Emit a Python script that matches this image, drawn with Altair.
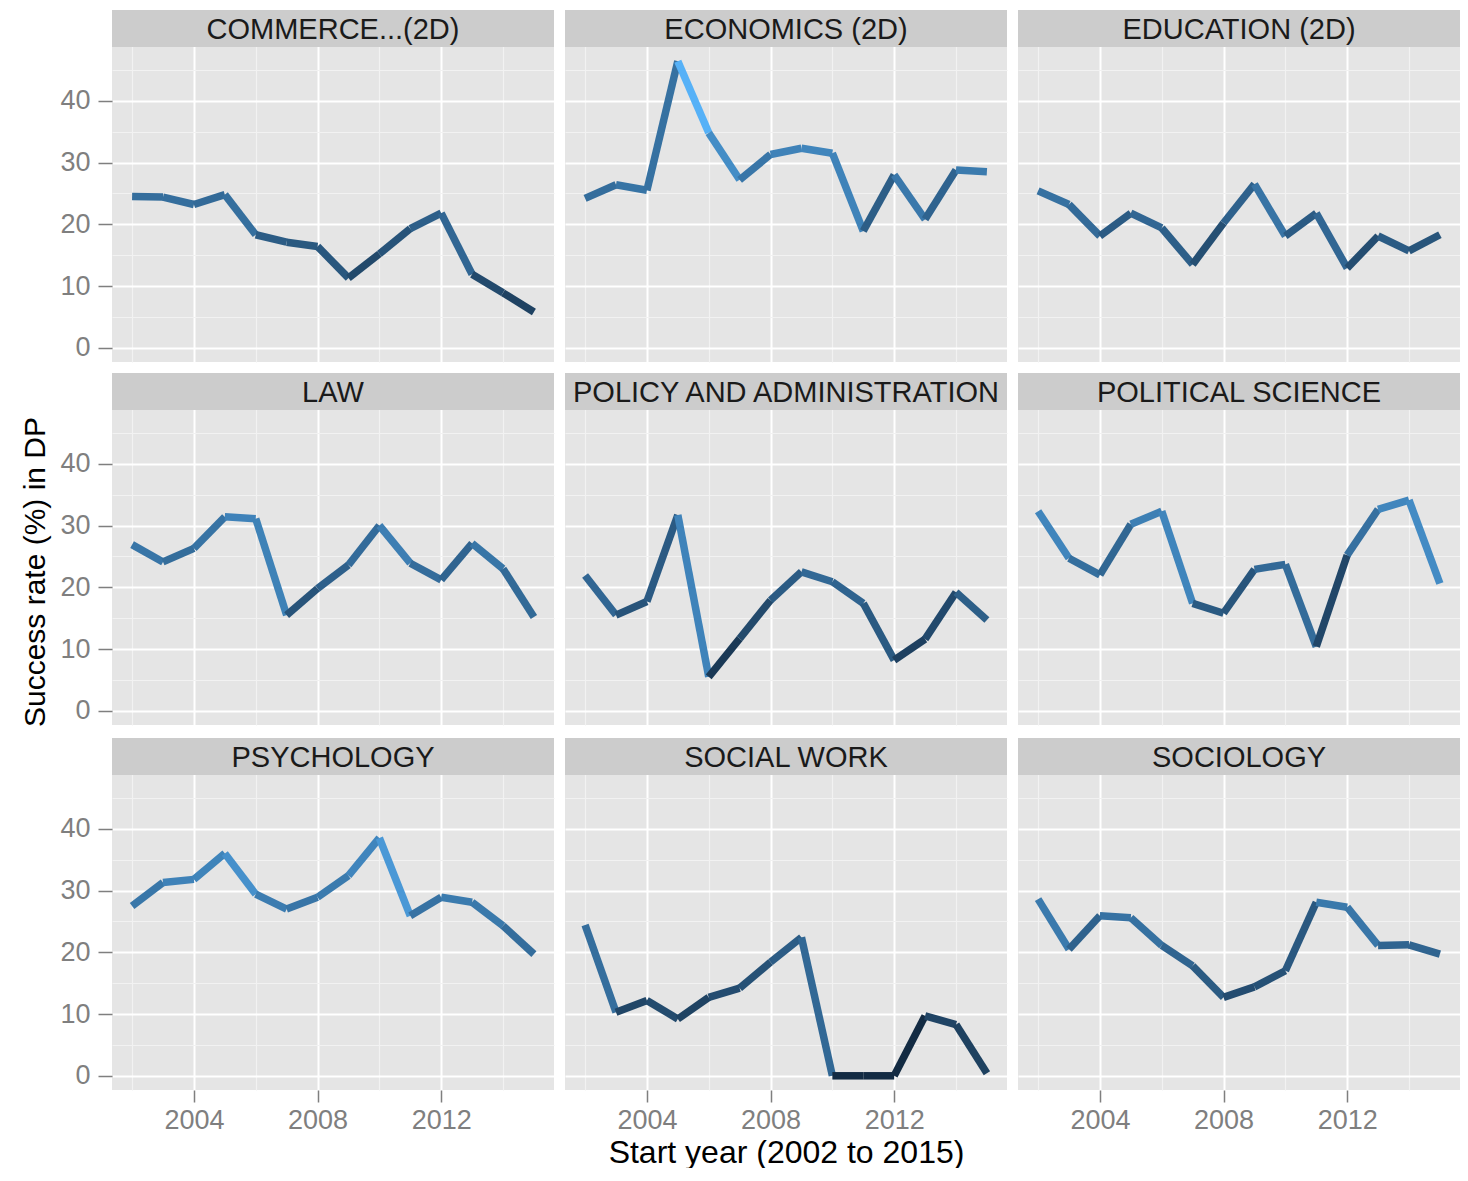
import altair as alt
import pandas as pd

# ---------------- data ----------------
years = list(range(2002, 2016))

panel_names = [
    "COMMERCE...(2D)", "ECONOMICS (2D)", "EDUCATION (2D)",
    "LAW", "POLICY AND ADMINISTRATION", "POLITICAL SCIENCE",
    "PSYCHOLOGY", "SOCIAL WORK", "SOCIOLOGY",
]

commerce = [24.5, 24.4, 23.2, 24.8, 18.3, 17.1, 16.4, 11.3, 15.2, 19.3, 21.8, 11.9, 8.9, 5.8]
economics = [24.2, 26.4, 25.5, 46.4, 34.8, 27.2, 31.3, 32.3, 31.5, 18.9, 28.0, 20.8, 28.8, 28.5]
education = [25.4, 23.2, 18.1, 21.8, 19.4, 13.5, 20.2, 26.5, 18.1, 21.8, 12.9, 18.1, 15.7, 18.3]
law = [26.9, 24.1, 26.3, 31.4, 31.1, 15.5, 19.8, 23.6, 30.0, 23.9, 21.2, 27.1, 23.0, 15.2]
policy = [21.9, 15.5, 17.7, 31.7, 5.5, 11.7, 17.9, 22.5, 20.9, 17.4, 8.2, 11.6, 19.2, 14.7]
polsci = [32.3, 24.7, 22.0, 30.2, 32.3, 17.4, 15.8, 22.9, 23.7, 10.4, 25.2, 32.6, 34.1, 20.6]
psychology = [27.5, 31.3, 31.8, 36.0, 29.4, 27.0, 28.9, 32.4, 38.5, 25.9, 28.9, 28.1, 24.3, 19.7]
social_work = [24.4, 10.3, 12.2, 9.2, 12.7, 14.2, 18.4, 22.4, 0.0, 0.0, 0.0, 9.7, 8.3, 0.4]
sociology = [28.6, 20.5, 25.9, 25.6, 21.1, 17.8, 12.7, 14.4, 17.0, 28.1, 27.3, 21.1, 21.2, 19.7]

series = [commerce, economics, education, law, policy, polsci,
          psychology, social_work, sociology]

y_grid = [0, 5, 10, 15, 20, 25, 30, 35, 40, 45]
x_grid = [2002, 2004, 2006, 2008, 2010, 2012, 2014]

x_title = "Start year (2002 to 2015)"
y_title = "Success rate (%) in DP"

# ---------------- layout / style ----------------
W = 442
PLOT_H = 315
STRIP_H = 37
H = PLOT_H + STRIP_H
Y_MIN, Y_MAX = -2.3, 48.7
Y_TOP = Y_MAX + STRIP_H * (Y_MAX - Y_MIN) / PLOT_H
X_MIN, X_MAX = 2001.35, 2015.65

all_vals = [v for s in series for v in s]
c_min, c_max = min(all_vals), max(all_vals)

FONT = "Liberation Sans"


def make_panel(i):
    name = panel_names[i]
    vals = series[i]
    row, col = i // 3, i % 3
    seg = pd.DataFrame({
        "x": years[:-1], "x2": years[1:],
        "y": vals[:-1], "y2": vals[1:],
    })
    seg["c"] = seg["y"]

    x_major = "(datum.value - 2000) % 4 === 0"
    y_major = "datum.value % 10 === 0"

    x_axis_kw = dict(
        values=x_grid, grid=True, domain=False, format="d",
        gridColor={"condition": {"test": x_major, "value": "#FFFFFF"}, "value": "#F2F2F2"},
        gridWidth={"condition": {"test": x_major, "value": 2}, "value": 1.2},
        gridOpacity=1,
        labelOverlap=False, labelFlush=False,
        labelFont=FONT, labelFontSize=27, labelColor="#7F7F7F",
        titleFont=FONT, titleFontSize=32, titleColor="#000000", titleFontWeight="normal",
    )
    if row == 2:
        x_axis_kw.update(
            labels=True, ticks=True, tickSize=12, tickWidth=1.5,
            tickColor="#7F7F7F",
            tickOpacity={"condition": {"test": x_major, "value": 1}, "value": 0},
            labelExpr=f"{x_major} ? datum.label : ''",
            labelPadding=5,
        )
    else:
        x_axis_kw.update(labels=False, ticks=False)
    if i == 7:
        x_axis_kw.update(title=x_title, titlePadding=4)
    else:
        x_axis_kw.update(title=None)

    y_axis_kw = dict(
        values=y_grid, grid=True, domain=False,
        gridColor={"condition": {"test": y_major, "value": "#FFFFFF"}, "value": "#F2F2F2"},
        gridWidth={"condition": {"test": y_major, "value": 2}, "value": 1.2},
        gridOpacity=1,
        labelOverlap=False,
        labelFont=FONT, labelFontSize=27, labelColor="#7F7F7F",
        titleFont=FONT, titleFontSize=30, titleColor="#000000", titleFontWeight="normal",
    )
    if col == 0:
        y_axis_kw.update(
            labels=True, ticks=True, tickSize=14, tickWidth=1.5,
            tickColor="#7F7F7F",
            tickOpacity={"condition": {"test": y_major, "value": 1}, "value": 0},
            labelExpr=f"{y_major} ? datum.label : ''",
            labelPadding=8,
        )
    else:
        y_axis_kw.update(labels=False, ticks=False)
    if i == 3:
        y_axis_kw.update(title=y_title, titlePadding=9,
                         titleY=STRIP_H + PLOT_H / 2 + 4)
    else:
        y_axis_kw.update(title=None)

    lines = alt.Chart(seg).mark_rule(strokeWidth=7.5, strokeCap="butt").encode(
        x=alt.X("x:Q", scale=alt.Scale(domain=[X_MIN, X_MAX], nice=False, zero=False),
                axis=alt.Axis(**x_axis_kw)),
        x2="x2:Q",
        y=alt.Y("y:Q", scale=alt.Scale(domain=[Y_MIN, Y_TOP], nice=False, zero=False),
                axis=alt.Axis(**y_axis_kw)),
        y2="y2:Q",
        color=alt.Color("c:Q", legend=None,
                        scale=alt.Scale(domain=[c_min, c_max],
                                        range=["#132B43", "#56B1F7"],
                                        interpolate="lab")),
    )

    lab = pd.DataFrame({"t": [name]})
    strip = alt.Chart(lab).mark_rect(color="#CCCCCC").encode(
        x=alt.value(0), x2=alt.value(W), y=alt.value(0), y2=alt.value(STRIP_H),
    )
    strip_text = alt.Chart(lab).mark_text(
        font=FONT, fontSize=29, color="#1A1A1A", baseline="middle", align="center",
    ).encode(
        x=alt.value(W / 2), y=alt.value(STRIP_H / 2 + 1), text="t:N",
    )
    return alt.layer(lines, strip, strip_text).properties(width=W, height=H)


charts = [make_panel(i) for i in range(9)]

chart = alt.concat(*charts, columns=3, spacing=11).properties(
    padding={"left": 12, "top": 2, "right": 0, "bottom": 0},
    background="#FFFFFF",
).configure_view(
    fill="#E5E5E5", stroke=None,
)

chart.save("out.html", embed_options={"renderer": "svg", "actions": False})
